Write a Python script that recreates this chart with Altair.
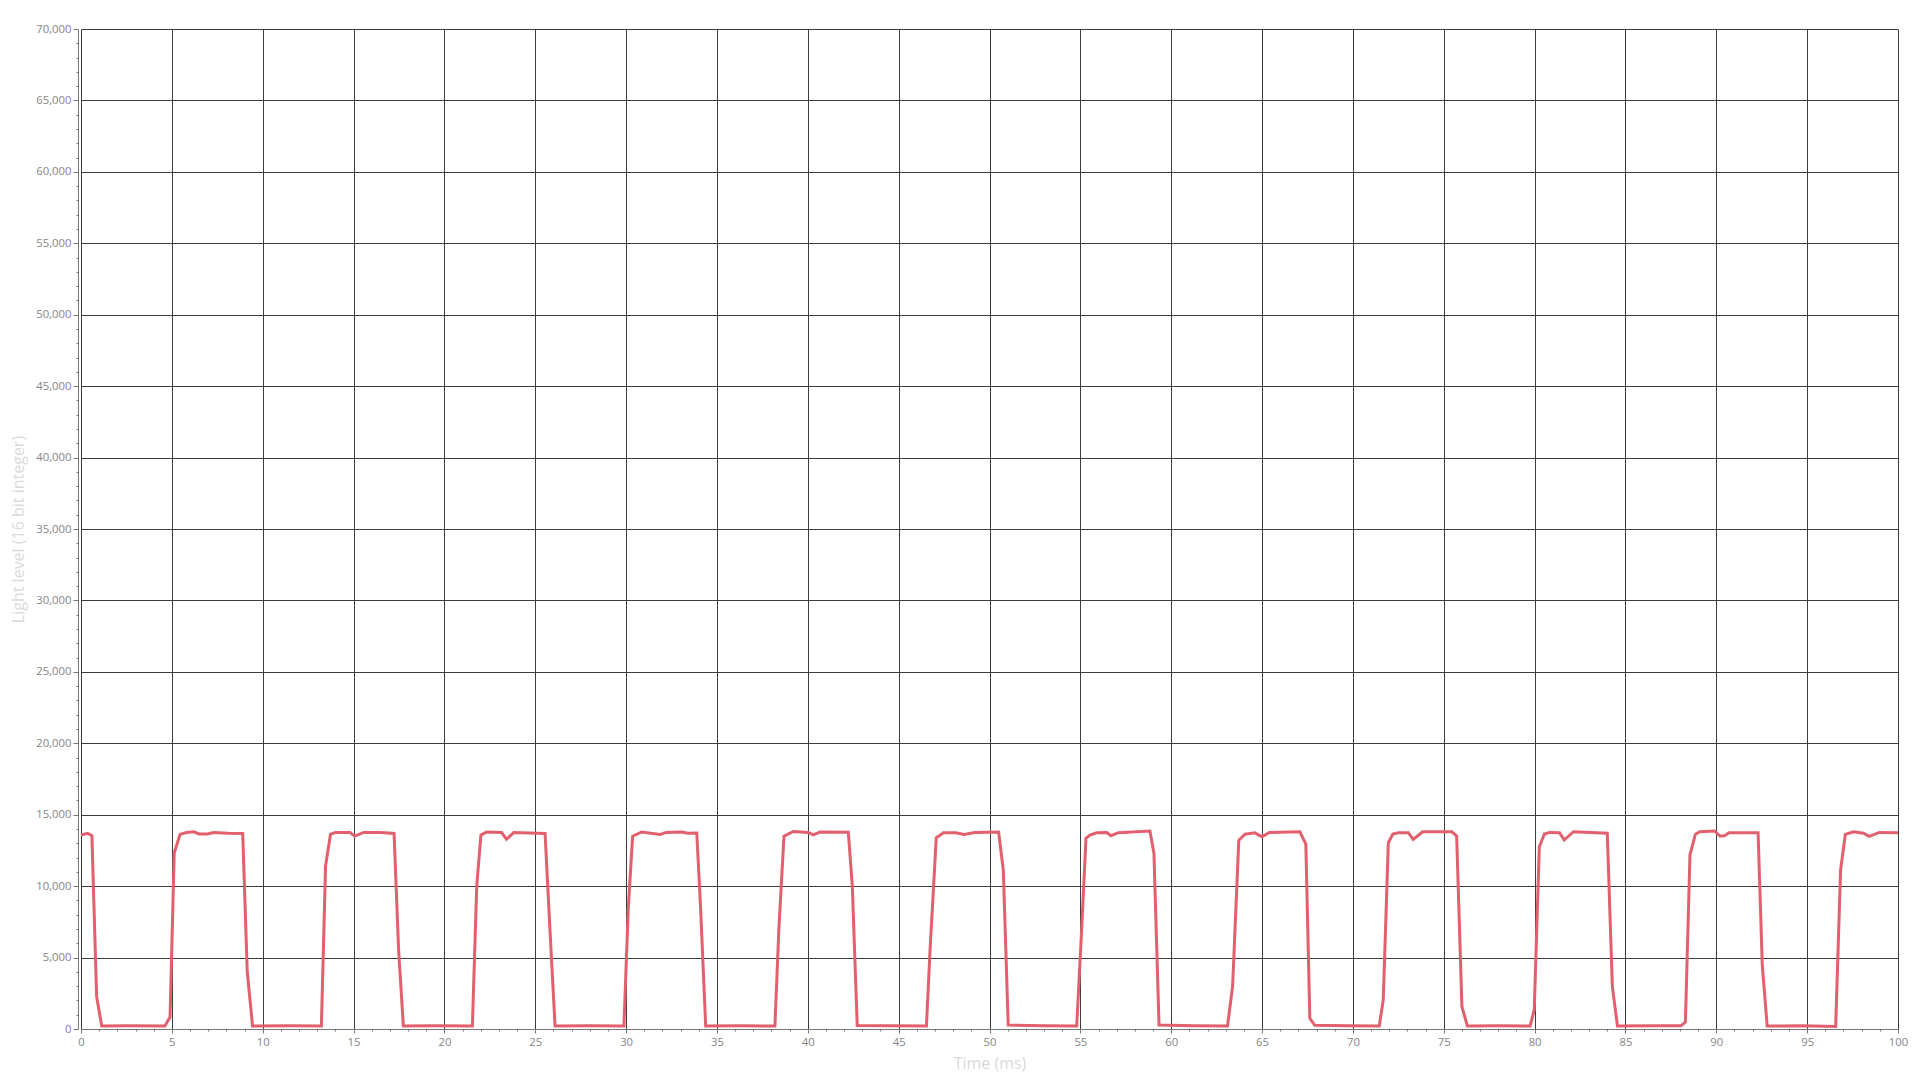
import altair as alt
import pandas as pd

time_ms = [
    0, 0.35, 0.6, 0.86, 1.14, 2.5, 4.62, 4.9, 5.13, 5.45, 5.8, 6.2, 6.5, 6.95, 7.3, 8.1, 8.9,
    9.15, 9.44, 11.5, 13.23, 13.46, 13.73, 14.0, 14.8, 15.06, 15.56, 16.5, 17.23,
    17.48, 17.74, 19.5, 21.54, 21.78, 22.01, 22.33, 23.15, 23.42, 23.82, 25.54,
    25.81, 26.09, 28.0, 29.88, 30.12, 30.36, 30.86, 31.87, 32.2, 33.06, 33.4, 33.89,
    34.1, 34.38, 36.3, 38.19, 38.41, 38.69, 39.2, 40.03, 40.3, 40.67, 42.23,
    42.45, 42.72, 44.6, 46.53, 46.73, 47.07, 47.47, 48.15, 48.6, 49.2, 50.5,
    50.76, 51.03, 53.0, 54.8, 55.07, 55.31, 55.53, 55.9, 56.45, 56.69, 57.09, 58.83,
    59.05, 59.33, 61.2, 63.1, 63.38, 63.72, 64.06, 64.6, 65.0, 65.4, 67.08,
    67.41, 67.63, 67.9, 69.7, 71.45, 71.67, 71.95, 72.2, 72.5, 73.05, 73.32, 73.84, 75.44,
    75.71, 76.0, 76.3, 78.0, 79.75, 79.98, 80.26, 80.54, 80.83, 81.37, 81.63, 82.14, 84.0,
    84.28, 84.56, 86.5, 88.05, 88.3, 88.55, 88.85, 89.1, 89.9, 90.2, 90.45, 90.7, 92.3,
    92.53, 92.8, 94.7, 96.57, 96.84, 97.1, 97.56, 98.1, 98.42, 98.97, 100,
]

# Light level (16 bit integer) at each vertex
light_level = [
    13580, 13700, 13530, 2260, 210, 230, 210, 840, 12320, 13620, 13750, 13800, 13650, 13650, 13760, 13700, 13680,
    4010, 210, 230, 210, 11420, 13620, 13760, 13760, 13500, 13760, 13760, 13690,
    5530, 210, 220, 210, 10010, 13580, 13790, 13750, 13280, 13760, 13690,
    6930, 210, 230, 210, 8450, 13500, 13790, 13620, 13760, 13790, 13700, 13720,
    8450, 210, 220, 210, 7050, 13500, 13830, 13760, 13590, 13790, 13770,
    10010, 250, 220, 210, 5580, 13380, 13730, 13740, 13620, 13760, 13790,
    11130, 280, 220, 210, 6930, 13350, 13580, 13740, 13760, 13530, 13740, 13860,
    12300, 280, 230, 210, 3000, 13210, 13640, 13730, 13450, 13760, 13800,
    12950, 750, 260, 230, 210, 2030, 13040, 13650, 13740, 13740, 13270, 13810, 13810,
    13510, 1560, 210, 230, 210, 1330, 12760, 13650, 13760, 13740, 13230, 13810, 13700,
    2960, 210, 230, 220, 480, 12180, 13640, 13810, 13860, 13510, 13530, 13740, 13740,
    4480, 210, 230, 170, 11130, 13620, 13810, 13700, 13480, 13760, 13740,
]

x_ticks = list(range(0, 101))
y_ticks = list(range(0, 70001, 1000))

df = pd.DataFrame({"t": time_ms, "v": light_level})

FONT = "Open Sans"
GRID = "#3c3c3c"

x_axis = alt.Axis(
    title="Time (ms)",
    values=x_ticks,
    labelExpr="datum.value % 5 === 0 ? format(datum.value, ',') : ''",
    grid=True,
    gridColor=GRID,
    gridWidth=1,
    gridOpacity={"condition": {"test": "datum.value % 5 === 0", "value": 1}, "value": 0},
    tickSize={"condition": {"test": "datum.value % 5 === 0", "value": 4}, "value": 2},
    tickColor="#777777",
    domainColor="#777777",
    labelFont=FONT,
    labelFontSize=11.3,
    labelColor="#858585",
    labelPadding=3,
    labelFlush=False,
    labelOverlap=False,
    titleFont=FONT,
    titleFontSize=16,
    titleFontWeight="normal",
    titleColor="#dadada",
    titleY=34,
    titleBaseline="middle",
)

y_axis = alt.Axis(
    title="Light level (16 bit integer)",
    values=y_ticks,
    labelExpr="datum.value % 5000 === 0 ? format(datum.value, ',') : ''",
    grid=True,
    gridColor=GRID,
    gridWidth=1,
    gridOpacity={"condition": {"test": "datum.value % 5000 === 0", "value": 1}, "value": 0},
    tickSize={"condition": {"test": "datum.value % 5000 === 0", "value": 5}, "value": 2},
    tickColor="#777777",
    domainColor="#777777",
    offset=3,
    labelFont=FONT,
    labelFontSize=11.3,
    labelColor="#858585",
    labelPadding=2,
    labelFlush=False,
    labelOverlap=False,
    titleFont=FONT,
    titleFontSize=16,
    titleFontWeight="normal",
    titleColor="#dadada",
    titleX=-60,
    titleY=500,
    titleAngle=270,
    titleAlign="center",
    titleBaseline="middle",
)

chart = (
    alt.Chart(df)
    .mark_line(color="#e25f6e", strokeWidth=3, strokeJoin="miter")
    .encode(
        x=alt.X("t:Q", scale=alt.Scale(domain=[0, 100], nice=False, zero=False), axis=x_axis),
        y=alt.Y("v:Q", scale=alt.Scale(domain=[0, 70000], nice=False), axis=y_axis),
    )
    .properties(
        width=1817,
        height=1000,
        autosize=alt.AutoSizeParams(type="none"),
        padding={"left": 73, "top": 21, "right": 12, "bottom": 45},
        background="white",
    )
    .configure_view(stroke="transparent")
)

chart.save("out.html", embed_options={"renderer": "svg", "actions": False})
